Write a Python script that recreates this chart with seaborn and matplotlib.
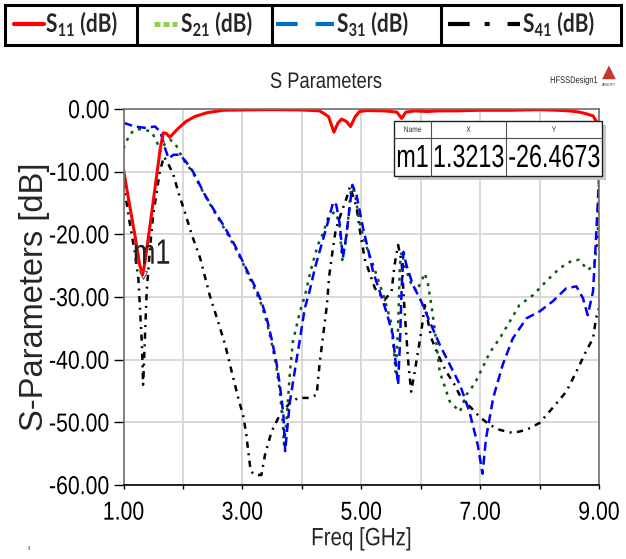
import numpy as np
import pandas as pd
import matplotlib
matplotlib.use('Agg')
import matplotlib.pyplot as plt
from matplotlib.ticker import FormatStrFormatter, FixedLocator
from matplotlib.patches import Rectangle
from matplotlib.patheffects import AbstractPathEffect
from matplotlib.transforms import Affine2D
from matplotlib.path import Path
import seaborn as sns

## data
s11_freq = [1.00, 1.10, 1.20, 1.27, 1.3213, 1.36, 1.45, 1.55, 1.62, 1.67, 1.72, 1.78, 1.85, 1.92,
            2.05, 2.20, 2.40, 2.68, 3.00, 3.50, 4.00, 4.30, 4.45, 4.54, 4.61, 4.67, 4.75, 4.82,
            4.90, 4.97, 5.10, 5.40, 5.60, 5.68, 5.75, 5.90, 6.10, 6.30, 6.60, 7.00, 7.50, 8.00,
            8.30, 8.50, 8.67, 8.80, 8.90, 8.95, 9.00]
s11_db = [-9.7, -15.2, -20.6, -24.8, -26.4673, -24.5, -18.3, -11.2, -6.2, -3.8, -3.9, -4.5, -3.8, -3.1,
          -2.0, -1.2, -0.6, -0.2, -0.15, -0.1, -0.15, -0.3, -1.2, -3.7, -2.2, -1.6, -2.0, -2.8,
          -1.2, -0.4, -0.25, -0.3, -0.5, -1.5, -0.5, -0.3, -0.4, -0.3, -0.3, -0.2, -0.2, -0.1,
          -0.2, -0.3, -0.5, -0.8, -1.1, -1.9, -4.5]

s21_freq = [1.00, 1.10, 1.19, 1.30, 1.47, 1.56, 1.62, 1.70, 1.78, 1.87, 2.00, 2.17, 2.37, 2.54,
            2.71, 2.87, 3.01, 3.10, 3.21, 3.32, 3.41, 3.49, 3.57, 3.63, 3.68, 3.70, 3.74, 3.80,
            3.85, 3.97, 4.05, 4.16, 4.27, 4.36, 4.44, 4.55, 4.63, 4.68, 4.75, 4.83, 4.89, 4.97,
            5.06, 5.20, 5.39, 5.51, 5.58, 5.62, 5.65, 5.68, 5.73, 5.82, 5.93, 6.01, 6.07, 6.12,
            6.18, 6.24, 6.32, 6.49, 6.66, 6.77, 6.91, 7.05, 7.16, 7.33, 7.50, 7.66, 7.89, 8.11,
            8.34, 8.56, 8.67, 8.81, 8.92, 8.98, 9.00]
s21_db = [-6.3, -4.1, -3.3, -3.2, -3.6, -5.2, -6.8, -5.5, -4.9, -5.5, -8.0, -10.2, -13.8, -16.6,
          -19.3, -22.0, -24.6, -26.6, -28.8, -31.2, -34.0, -37.2, -41.0, -45.0, -50.0, -53.5, -50.0, -42.0,
          -37.1, -32.3, -29.9, -25.4, -21.7, -19.8, -17.4, -16.4, -18.0, -24.1, -20.6, -12.6, -13.2, -18.0,
          -21.2, -24.9, -30.2, -34.4, -42.0, -35.0, -24.9, -22.8, -24.9, -27.5, -29.1, -27.5, -26.2, -27.8,
          -31.3, -35.5, -41.9, -46.7, -48.3, -45.6, -43.8, -41.1, -38.9, -36.6, -33.9, -31.3, -29.7, -27.5,
          -25.4, -24.1, -24.1, -25.7, -24.9, -20.6, -12.0]

s31_freq = [1.00, 1.19, 1.36, 1.53, 1.62, 1.70, 1.76, 1.84, 1.95, 2.05, 2.17, 2.37, 2.54, 2.71,
            2.87, 3.01, 3.10, 3.21, 3.32, 3.41, 3.49, 3.57, 3.63, 3.69, 3.72, 3.75, 3.80, 3.88,
            3.97, 4.05, 4.13, 4.22, 4.33, 4.44, 4.53, 4.58, 4.64, 4.69, 4.75, 4.81, 4.85, 4.92,
            5.03, 5.11, 5.20, 5.31, 5.42, 5.53, 5.59, 5.62, 5.65, 5.68, 5.71, 5.76, 5.87, 6.01,
            6.15, 6.32, 6.49, 6.66, 6.82, 6.96, 7.04, 7.10, 7.22, 7.38, 7.55, 7.78, 8.00, 8.22,
            8.45, 8.62, 8.73, 8.81, 8.90, 8.95, 9.00]
s31_db = [-2.2, -2.8, -3.0, -2.8, -3.6, -6.3, -7.9, -7.3, -7.3, -8.4, -10.0, -13.7, -16.4, -19.0,
          -21.7, -24.4, -26.2, -28.3, -30.7, -33.4, -36.6, -40.3, -44.0, -48.8, -54.6, -51.5, -46.7, -41.9,
          -36.6, -31.8, -29.1, -25.4, -21.7, -18.0, -14.8, -15.3, -18.5, -23.8, -20.1, -15.3, -12.1, -13.7,
          -19.0, -22.2, -26.0, -29.1, -32.3, -36.0, -41.4, -44.0, -37.6, -28.6, -22.8, -24.9, -28.1, -30.7,
          -33.9, -37.6, -40.8, -44.0, -48.3, -53.6, -58.2, -52.5, -46.1, -40.8, -36.6, -33.4, -32.3, -30.7,
          -28.6, -28.3, -30.2, -32.9, -29.1, -20.6, -11.0]

s41_freq = [1.00, 1.05, 1.11, 1.19, 1.25, 1.28, 1.31, 1.33, 1.36, 1.39, 1.45, 1.50, 1.56, 1.61,
            1.68, 1.75, 1.84, 1.92, 2.03, 2.15, 2.29, 2.45, 2.59, 2.71, 2.82, 2.93, 3.01, 3.06,
            3.10, 3.14, 3.21, 3.32, 3.38, 3.49, 3.63, 3.80, 3.94, 4.13, 4.25, 4.30, 4.36, 4.42,
            4.46, 4.52, 4.57, 4.67, 4.75, 4.81, 4.92, 4.97, 5.06, 5.23, 5.39, 5.51, 5.56, 5.62,
            5.68, 5.73, 5.79, 5.84, 5.90, 6.01, 6.07, 6.18, 6.29, 6.43, 6.57, 6.68, 6.85, 6.99,
            7.16, 7.33, 7.55, 7.78, 8.00, 8.22, 8.45, 8.62, 8.78, 8.90, 8.95, 9.00]
s41_db = [-11.6, -14.8, -18.5, -22.8, -27.0, -32.3, -37.6, -44.0, -36.6, -29.1, -21.7, -16.9, -13.2, -10.0,
          -7.6, -8.7, -10.5, -13.2, -16.4, -20.1, -23.8, -29.7, -33.9, -37.6, -41.9, -46.1, -48.8, -51.5,
          -54.7, -57.8, -58.4, -58.4, -55.2, -51.5, -48.8, -46.9, -46.1, -46.1, -45.6, -40.6, -36.0, -31.5,
          -26.7, -22.5, -19.3, -16.4, -14.3, -12.4, -15.6, -19.0, -24.0, -28.6, -30.5, -29.1, -24.9, -21.7,
          -24.4, -32.3, -40.3, -45.1, -41.9, -35.5, -31.3, -36.6, -39.2, -41.9, -44.0, -46.1, -47.7, -49.1,
          -50.4, -51.2, -51.7, -51.2, -50.1, -47.7, -45.1, -41.9, -38.7, -36.6, -33.4, -31.8]

marker_f = 1.3213
marker_db = -26.4673

legend_names = ['S$_{\\mathbf{11}}$ (dB)', 'S$_{\\mathbf{21}}$ (dB)',
                'S$_{\\mathbf{31}}$ (dB)', 'S$_{\\mathbf{41}}$ (dB)']


class Stretch(AbstractPathEffect):
    # HFSS text looks tall and narrow -> stretch glyph paths vertically
    def __init__(self, sy=1.22, anchor='center'):
        super().__init__()
        self.sy, self.anchor = sy, anchor

    def draw_path(self, renderer, gc, tpath, affine, rgbFace=None):
        v = tpath.vertices
        if tpath.codes is not None:
            v = v[tpath.codes != Path.CLOSEPOLY]
        if len(v) == 0:
            renderer.draw_path(gc, tpath, affine, rgbFace)
            return
        ymin, ymax = v[:, 1].min(), v[:, 1].max()
        y0 = {'center': (ymin + ymax) / 2, 'top': ymax, 'bottom': ymin}[self.anchor]
        t = Affine2D().translate(0, -y0).scale(1.0, self.sy).translate(0, y0) + affine
        renderer.draw_path(gc, tpath, t, rgbFace)


sns.set_theme(style='white')
plt.rcParams['font.family'] = ['Liberation Sans', 'DejaVu Sans']
plt.rcParams['axes.unicode_minus'] = False
plt.rcParams['mathtext.fontset'] = 'custom'
plt.rcParams['mathtext.rm'] = 'Lato:bold'
plt.rcParams['mathtext.bf'] = 'Lato:bold'

fig = plt.figure(figsize=(6.26, 5.59), dpi=100)
W, H = 626, 559
ax = fig.add_axes([123.5 / W, 1 - 485 / H, 475.5 / W, 376 / H])

series = [
    (s41_freq, s41_db, 'black', (0, (2.5, 2.2, 0.8, 2.2)), 1.8),
    (s21_freq, s21_db, '#0f5a0f', (0, (1.2, 2.2)), 1.8),
    (s31_freq, s31_db, '#0000ff', (0, (3.6, 2.0)), 1.8),
    (s11_freq, s11_db, '#ff0000', '-', 2.2),
]
for fq, db, col, ls, lw in series:
    df = pd.DataFrame({'freq': fq, 'db': db})
    sns.lineplot(data=df, x='freq', y='db', ax=ax, color=col, linestyle=ls,
                 lw=lw, sort=False, estimator=None)

ax.plot([marker_f], [marker_db], marker='v', ms=6, mfc='none', mec='#606060', mew=0.8)
m1_txt = ax.annotate('m1', xy=(marker_f, marker_db), xytext=(-7, 8), textcoords='offset points',
                     ha='left', va='baseline', fontsize=19.5, color='#202020')
m1_txt.set_path_effects([Stretch(1.3, 'bottom')])

ax.set_xlim(1, 9)
ax.set_ylim(-60, 0)
ax.set_yticks(np.arange(-60, 1, 10))
ax.yaxis.set_major_formatter(FormatStrFormatter('%.2f'))
ax.set_xticks([1, 3, 5, 7, 9])
ax.xaxis.set_minor_locator(FixedLocator([2, 4, 6, 8]))
ax.xaxis.set_major_formatter(FormatStrFormatter('%.2f'))
ax.tick_params(axis='y', which='major', direction='out', length=7.5, width=1, pad=2.5,
               labelsize=15.3, colors='black', left=True)
ax.tick_params(axis='x', which='both', direction='out', length=3, width=1, pad=10,
               labelsize=15.3, colors='black', bottom=True)
ax.grid(True, which='both', axis='x', color='#d6d6d6', lw=1.3)
ax.grid(True, which='major', axis='y', color='#d6d6d6', lw=1.3)
for side in ['left', 'right', 'top']:
    ax.spines[side].set_color('#707070')
    ax.spines[side].set_linewidth(1.2)
ax.spines['bottom'].set_color('black')
ax.spines['bottom'].set_linewidth(1.2)

ax.set_xlabel('Freq [GHz]', fontsize=14.8)
ax.set_ylabel('S-Parameters [dB]', fontsize=23.5)
ax.xaxis.set_label_coords(0.5, -(527 - 485) / 376)
ax.yaxis.set_label_coords(-(123.5 - 50) / 475.5, 0.5)
ax.xaxis.label.set_path_effects([Stretch(1.22, 'top')])

# title and HFSS decorations
ttl = fig.text(326 / W, 1 - 82 / H, 'S Parameters', ha='center', va='center', fontsize=13.2)
ttl.set_path_effects([Stretch(1.22)])
hd = fig.text(574 / W, 1 - 81 / H, 'HFSSDesign1', ha='center', va='center', fontsize=5.4)
hd.set_path_effects([Stretch(1.3)])
fig.text(609 / W, 1 - 72 / H, '\u25b2', ha='center', va='center', fontsize=13,
         color='#c0392b', family='DejaVu Sans')
fig.text(609 / W, 1 - 85 / H, 'ANSOFT', ha='center', va='center', fontsize=2.5, color='#404040')
fig.text(28 / W, 1 - 548 / H, '\u0131', ha='center', va='center', fontsize=6, color='#303030')

# marker table
tb_l, tb_r, tb_t, tb_b, tb_h = 394, 602, 121, 176, 138
def fx(px):
    return px / W
def fy(py):
    return 1 - py / H
fig.patches.append(Rectangle((fx(tb_l + 4), fy(tb_b + 4)), fx(tb_r - tb_l), (tb_b - tb_t) / H,
                             transform=fig.transFigure, facecolor='#c8c8c8', edgecolor='none', zorder=5))
fig.patches.append(Rectangle((fx(tb_l), fy(tb_b)), fx(tb_r - tb_l), (tb_b - tb_t) / H,
                             transform=fig.transFigure, facecolor='white', edgecolor='#202020', lw=1.0, zorder=6))
fig.add_artist(plt.Line2D([fx(tb_l), fx(tb_r)], [fy(tb_h), fy(tb_h)], transform=fig.transFigure,
                          color='#505050', lw=0.8, zorder=7))
for cx in [431, 506]:
    fig.add_artist(plt.Line2D([fx(cx), fx(cx)], [fy(tb_t), fy(tb_b)], transform=fig.transFigure,
                              color='#505050', lw=0.8, zorder=7))
col_mid = [(tb_l + 431) / 2, (431 + 506) / 2, (506 + tb_r) / 2]
for cx, head, val in zip(col_mid, ['Name', 'X', 'Y'], ['m1', f'{marker_f:.4f}', f'{marker_db:.4f}']):
    h = fig.text(fx(cx), fy(130), head, ha='center', va='center', fontsize=4.8, color='#303030', zorder=8)
    h.set_path_effects([Stretch(1.25)])
    t = fig.text(fx(cx), fy(157.5), val, ha='center', va='center', fontsize=16.8, color='black', zorder=8)
    t.set_path_effects([Stretch(1.37)])

# legend strip on top
lax = fig.add_axes([5 / W, 1 - 45 / H, 616 / W, 40 / H])
lax.set_xlim(5, 621)
lax.set_ylim(45, 5)
lax.set_xticks([])
lax.set_yticks([])
for s in lax.spines.values():
    s.set_color('black')
    s.set_linewidth(2.2)
for dx in [137, 272, 441]:
    lax.axvline(dx, color='black', lw=2.2)
ly = 24
lax.plot([14, 44], [ly, ly], color='#ff0000', lw=3.0)
lax.plot([154, 177], [ly, ly], color='#92d050', lw=3.6, linestyle=(0, (1.2, 0.6)))
lax.plot([276, 334], [ly, ly], color='#0070c0', lw=3.0, linestyle=(0, (5.2, 4.3)))
lax.plot([448, 520], [ly, ly], color='black', lw=3.0, linestyle=(0, (5.2, 3.6, 1.2, 4.3)))
for tx, name in zip([46, 181, 337, 523], legend_names):
    lt = lax.text(tx, ly, name, ha='left', va='center', fontsize=15, fontweight='bold',
                  family=['Lato', 'DejaVu Sans'])
    lt.set_path_effects([Stretch(1.22)])

fig.canvas.draw()
for lbl in ax.get_yticklabels() + ax.get_xticklabels():
    lbl.set_path_effects([Stretch(1.22)])

fig.savefig('out.png', dpi=100)
